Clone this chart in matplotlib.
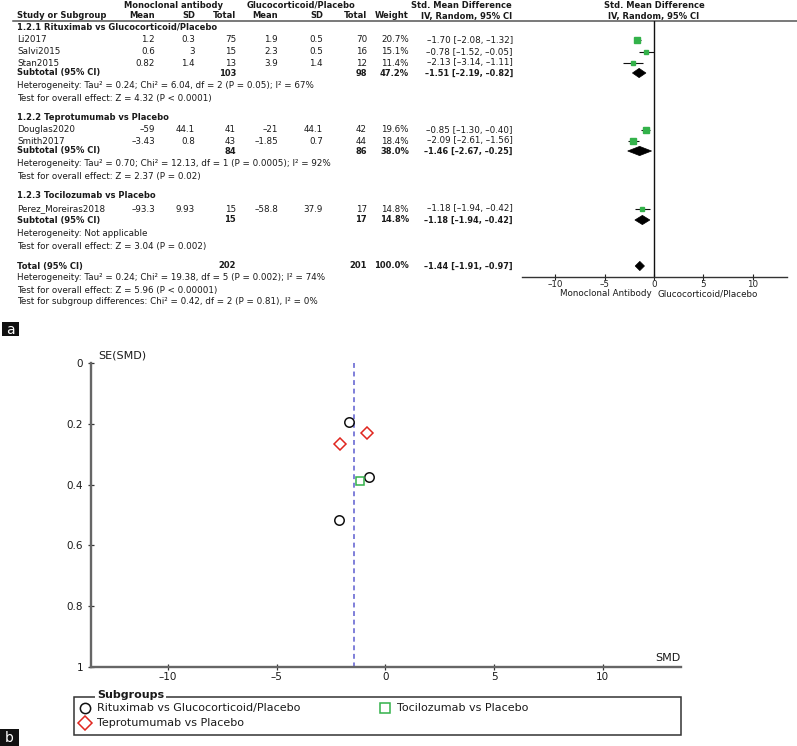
import matplotlib
matplotlib.use("Agg")
import matplotlib.pyplot as plt
from matplotlib.patches import Polygon, Rectangle

W, H = 797, 746
plt.rcParams['font.family'] = ['DejaVu Sans']

# ---------------- data ----------------
subgroup_titles = ["1.2.1 Rituximab vs Glucocorticoid/Placebo",
                   "1.2.2 Teprotumumab vs Placebo",
                   "1.2.3 Tocilozumab vs Placebo"]
legend_names = ["Rituximab vs Glucocorticoid/Placebo",
                "Teprotumumab vs Placebo",
                "Tocilozumab vs Placebo"]
studies = ["Li2017", "Salvi2015", "Stan2015", "Douglas2020", "Smith2017", "Perez_Moreiras2018"]
study_group = [0, 0, 0, 1, 1, 2]
mab_mean = [1.2, 0.6, 0.82, -59, -3.43, -93.3]
mab_sd = [0.3, 3, 1.4, 44.1, 0.8, 9.93]
mab_n = [75, 15, 13, 41, 43, 15]
gc_mean = [1.9, 2.3, 3.9, -21, -1.85, -58.8]
gc_sd = [0.5, 0.5, 1.4, 44.1, 0.7, 37.9]
gc_n = [70, 16, 12, 42, 44, 17]
weight = [20.7, 15.1, 11.4, 19.6, 18.4, 14.8]
smd = [-1.70, -0.78, -2.13, -0.85, -2.09, -1.18]
ci_lo = [-2.08, -1.52, -3.14, -1.30, -2.61, -1.94]
ci_hi = [-1.32, -0.05, -1.11, -0.40, -1.56, -0.42]
se_smd = [0.194, 0.375, 0.518, 0.230, 0.268, 0.388]

sub_mab_n = [103, 84, 15]
sub_gc_n = [98, 86, 17]
sub_weight = [47.2, 38.0, 14.8]
sub_smd = [-1.51, -1.46, -1.18]
sub_lo = [-2.19, -2.67, -1.94]
sub_hi = [-0.82, -0.25, -0.42]
sub_het = ["Heterogeneity: Tau\u00b2 = 0.24; Chi\u00b2 = 6.04, df = 2 (P = 0.05); I\u00b2 = 67%",
           "Heterogeneity: Tau\u00b2 = 0.70; Chi\u00b2 = 12.13, df = 1 (P = 0.0005); I\u00b2 = 92%",
           "Heterogeneity: Not applicable"]
sub_test = ["Test for overall effect: Z = 4.32 (P < 0.0001)",
            "Test for overall effect: Z = 2.37 (P = 0.02)",
            "Test for overall effect: Z = 3.04 (P = 0.002)"]

tot_mab_n, tot_gc_n, tot_weight = 202, 201, 100.0
tot_smd, tot_lo, tot_hi = -1.44, -1.91, -0.97
tot_lines = ["Heterogeneity: Tau\u00b2 = 0.24; Chi\u00b2 = 19.38, df = 5 (P = 0.002); I\u00b2 = 74%",
             "Test for overall effect: Z = 5.96 (P < 0.00001)",
             "Test for subgroup differences: Chi\u00b2 = 0.42, df = 2 (P = 0.81), I\u00b2 = 0%"]

forest_ticks = [-10, -5, 0, 5, 10]
funnel_xticks = [-10, -5, 0, 5, 10]
funnel_yticks = [0, 0.2, 0.4, 0.6, 0.8, 1]
funnel_yticklabels = ["0", "0.2", "0.4", "0.6", "0.8", "1"]

# ---------------- styles / layout ----------------
FS = 6.3
FSB = 6.0
GREEN = '#33b24a'
RED = '#e0261f'
styles = [dict(marker='o', mec='#111111', ms=6.8),
          dict(marker='D', mec=RED, ms=6.4),
          dict(marker='s', mec=GREEN, ms=6.2)]

sec_title_y = [27, 118, 195]
study_y = [40, 52, 63, 130, 141, 209]
subtotal_y = [73, 151, 220]
het_y = [86, 164, 234]
test_y = [98, 176, 246]
total_y = 266
tot_lines_y = [278, 290, 302]

col_x = dict(name=17, m1=155, s1=195, n1=236, m2=278, s2=323, n2=367, w=409, ci=513)
DASH = "\u2013"


def fmt(v):
    return f"{v:g}".replace("-", DASH)


def fci(e, lo, hi):
    return f"{e:.2f} [{lo:.2f}, {hi:.2f}]".replace("-", DASH)


fig = plt.figure(figsize=(W / 100, H / 100), dpi=100)
ax_t = fig.add_axes([0, 0, 1, 1])
ax_t.set_xlim(0, W)
ax_t.set_ylim(H, 0)
ax_t.axis('off')


def T(x, y, s, ha='left', bold=False, size=None, color='#1a1a1a', **kw):
    if size is None:
        size = FSB if bold else FS
    ax_t.text(x, y, s, ha=ha, va='center', fontsize=size,
              fontweight='bold' if bold else 'normal', color=color, **kw)


# headers
T(174, 5, "Monoclonal antibody", ha='center', bold=True)
T(301, 5, "Glucocorticoid/Placebo", ha='center', bold=True)
T(461, 5, "Std. Mean Difference", ha='center', bold=True)
T(654, 5, "Std. Mean Difference", ha='center', bold=True)
T(col_x['name'], 16, "Study or Subgroup", bold=True)
for key, lab in [('m1', 'Mean'), ('s1', 'SD'), ('n1', 'Total'), ('m2', 'Mean'),
                 ('s2', 'SD'), ('n2', 'Total'), ('w', 'Weight')]:
    T(col_x[key], 16, lab, ha='right', bold=True)
T(467, 16, "IV, Random, 95% CI", ha='center', bold=True)
T(654, 16, "IV, Random, 95% CI", ha='center', bold=True)
ax_t.plot([13, W], [21, 21], color='#555555', lw=1.1)

# study rows
for i, name in enumerate(studies):
    y = study_y[i]
    T(col_x['name'], y, name)
    T(col_x['m1'], y, fmt(mab_mean[i]), ha='right')
    T(col_x['s1'], y, fmt(mab_sd[i]), ha='right')
    T(col_x['n1'], y, str(mab_n[i]), ha='right')
    T(col_x['m2'], y, fmt(gc_mean[i]), ha='right')
    T(col_x['s2'], y, fmt(gc_sd[i]), ha='right')
    T(col_x['n2'], y, str(gc_n[i]), ha='right')
    T(col_x['w'], y, f"{weight[i]:.1f}%", ha='right')
    T(col_x['ci'], y, fci(smd[i], ci_lo[i], ci_hi[i]), ha='right')

for g in range(3):
    T(col_x['name'], sec_title_y[g], subgroup_titles[g], bold=True)
    y = subtotal_y[g]
    T(col_x['name'], y, "Subtotal (95% CI)", bold=True)
    T(col_x['n1'], y, str(sub_mab_n[g]), ha='right', bold=True)
    T(col_x['n2'], y, str(sub_gc_n[g]), ha='right', bold=True)
    T(col_x['w'], y, f"{sub_weight[g]:.1f}%", ha='right', bold=True)
    T(col_x['ci'], y, fci(sub_smd[g], sub_lo[g], sub_hi[g]), ha='right', bold=True, size=5.9)
    T(col_x['name'], het_y[g], sub_het[g])
    T(col_x['name'], test_y[g], sub_test[g])

T(col_x['name'], total_y, "Total (95% CI)", bold=True)
T(col_x['n1'], total_y, str(tot_mab_n), ha='right', bold=True)
T(col_x['n2'], total_y, str(tot_gc_n), ha='right', bold=True)
T(col_x['w'], total_y, f"{tot_weight:.1f}%", ha='right', bold=True)
T(col_x['ci'], total_y, fci(tot_smd, tot_lo, tot_hi), ha='right', bold=True, size=5.9)
for s, y in zip(tot_lines, tot_lines_y):
    T(col_x['name'], y, s)

# ---------------- forest axes ----------------
f_top, f_bot, f_left, f_right = 21, 277, 522, 787
ax_f = fig.add_axes([f_left / W, 1 - f_bot / H, (f_right - f_left) / W, (f_bot - f_top) / H])
ax_f.patch.set_visible(False)
ax_f.set_xlim(-13.4, 13.5)
ax_f.set_ylim(f_bot, f_top)
for sp in ['top', 'left', 'right']:
    ax_f.spines[sp].set_visible(False)
ax_f.spines['bottom'].set_color('#333333')
ax_f.spines['bottom'].set_linewidth(1.0)
ax_f.set_yticks([])
ax_f.set_xticks(forest_ticks)
ax_f.set_xticklabels([fmt(t) for t in forest_ticks])
ax_f.tick_params(axis='x', direction='inout', length=4, width=0.8, labelsize=6.3,
                 pad=0.3, colors='#222222')
ax_f.axvline(0, color='#111111', lw=1.0)

ax_f.hlines(study_y, ci_lo, ci_hi, color='#111111', lw=0.8, zorder=3)
for i in range(len(studies)):
    ax_f.plot(smd[i], study_y[i], 's', color=GREEN, mec=GREEN,
              ms=0.9 * weight[i] ** 0.5, zorder=4)
dh = 4.6
for g in range(3):
    y = subtotal_y[g]
    ax_f.add_patch(Polygon([(sub_lo[g], y), (sub_smd[g], y - dh), (sub_hi[g], y),
                            (sub_smd[g], y + dh)], closed=True, fc='black', ec='black', lw=0.5))
ax_f.add_patch(Polygon([(tot_lo, total_y), (tot_smd, total_y - dh), (tot_hi, total_y),
                        (tot_smd, total_y + dh)], closed=True, fc='black', ec='black', lw=0.5))
ax_f.text(-0.2, 294, "Monoclonal Antibody", ha='right', va='center', fontsize=FS, color='#1a1a1a')
ax_f.text(0.35, 294, "Glucocorticoid/Placebo", ha='left', va='center', fontsize=FS, color='#1a1a1a')

# ---------------- panel labels ----------------
for (x0, y0, w, h, s) in [(2, 322, 17, 14, 'a'), (0, 729, 19, 17, 'b')]:
    ax_t.add_patch(Rectangle((x0, y0), w, h, fc='#111111', ec='none'))
    ax_t.text(x0 + w / 2, y0 + h / 2 + 0.5, s, ha='center', va='center', color='white', fontsize=10)

# ---------------- funnel plot ----------------
p_left, p_right, p_top, p_bot = 91, 681, 363, 667
ax_p = fig.add_axes([p_left / W, 1 - p_bot / H, (p_right - p_left) / W, (p_bot - p_top) / H])
ax_p.patch.set_visible(False)
ax_p.set_xlim(-13.55, 13.6)
ax_p.set_ylim(1, 0)
for sp in ['top', 'right']:
    ax_p.spines[sp].set_visible(False)
for sp in ['left', 'bottom']:
    ax_p.spines[sp].set_color('#666666')
    ax_p.spines[sp].set_linewidth(1.7)
ax_p.set_xticks(funnel_xticks)
ax_p.set_xticklabels([fmt(t) for t in funnel_xticks])
ax_p.set_yticks(funnel_yticks)
ax_p.set_yticklabels(funnel_yticklabels)
ax_p.tick_params(direction='inout', length=5, width=0.9, color='#333333',
                 labelsize=7.5, labelcolor='#1a1a1a')
ax_p.tick_params(axis='x', pad=1)
ax_p.tick_params(axis='y', pad=3)

ax_p.plot([tot_smd, tot_smd], [0, 1], color='#5c5cd0', lw=1.1, ls=(0, (3.2, 2.4)), zorder=1)
for i in range(len(studies)):
    st = styles[study_group[i]]
    ax_p.plot(smd[i], se_smd[i], ls='none', marker=st['marker'], ms=st['ms'],
              mfc='none', mec=st['mec'], mew=1.1, clip_on=False, zorder=3)

T(98, 356, "SE(SMD)", size=8)
T(681, 658, "SMD", ha='right', size=8)

# legend (manual, RevMan style)
ax_t.add_patch(Rectangle((74, 697), 607, 38, fc='none', ec='#333333', lw=1.1))
T(97, 695.5, "Subgroups", bold=True, size=8,
  bbox=dict(fc='white', ec='none', pad=1.2))
leg_pos = [(85, 708), (85, 723), (385, 708)]
for g in range(3):
    x, y = leg_pos[g]
    st = styles[g]
    ax_t.plot(x, y, ls='none', marker=st['marker'], ms=st['ms'] + 0.6,
              mfc='none', mec=st['mec'], mew=1.1)
    T(x + 12, y, legend_names[g], size=8)

fig.savefig("out.png", dpi=100)
